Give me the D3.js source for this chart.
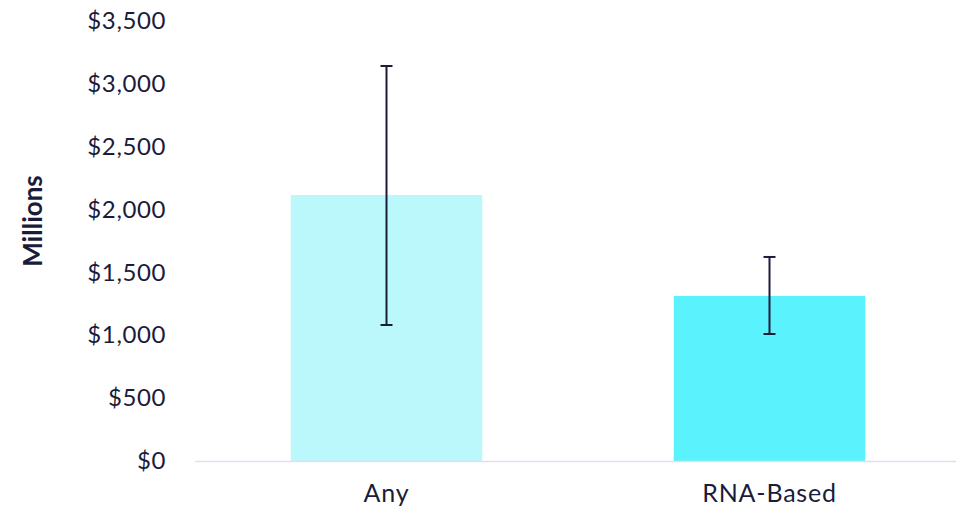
<!DOCTYPE html>
<html>
<head>
<meta charset="utf-8">
<script src="https://cdn.jsdelivr.net/npm/d3@7"></script>
<style>
  html, body { margin: 0; padding: 0; background: #fff; }
  svg { display: block; }
  text { font-family: Lato, "Open Sans", sans-serif; fill: #1b1b3a; }
</style>
</head>
<body>
<svg id="chart" width="956" height="515"></svg>
<script>
const categories = ["Any", "RNA-Based"];
const values = [2116, 1313];
const errLow = [1082, 1010];
const errHigh = [3142, 1623];
const barColors = ["#bbf8fc", "#59f2fd"];
const yTicks = [0, 500, 1000, 1500, 2000, 2500, 3000, 3500];
const yTitle = "Millions";

const svg = d3.select("#chart");
const x = d3.scaleBand().domain(categories).range([195, 961]).paddingInner(0.5).paddingOuter(0.25);
const y = d3.scaleLinear().domain([0, 3500]).range([461, 21]);

const fmt = d => "$" + d3.format(",")(d);

// y tick labels
const yAxis = d3.axisLeft(y).tickValues(yTicks).tickFormat(fmt).tickSize(0).tickPadding(0);
const gy = svg.append("g").attr("transform", "translate(166,0)").call(yAxis);
gy.select(".domain").remove();
gy.selectAll("text").style("font-size", "24px").style("letter-spacing", "0.6px")
  .style("font-family", "Lato, 'Open Sans', sans-serif").attr("fill", "#1b1b3a");

// bars
svg.selectAll("rect.bar").data(categories).join("rect")
  .attr("class", "bar")
  .attr("x", d => x(d))
  .attr("width", x.bandwidth())
  .attr("y", (d, i) => y(values[i]))
  .attr("height", (d, i) => y(0) - y(values[i]))
  .attr("fill", (d, i) => barColors[i]);

// baseline
svg.append("line").attr("x1", 195).attr("x2", 956).attr("y1", y(0) + 0.5).attr("y2", y(0) + 0.5)
  .attr("stroke", "#e2def2").attr("stroke-width", 1.5);

// error bars
const eg = svg.selectAll("g.err").data(categories).join("g").attr("class", "err")
  .attr("transform", d => `translate(${x(d) + x.bandwidth() / 2},0)`);
eg.append("line").attr("x1", 0).attr("x2", 0)
  .attr("y1", (d, i) => y(errHigh[i])).attr("y2", (d, i) => y(errLow[i]))
  .attr("stroke", "#1b1b3a").attr("stroke-width", 2);
eg.append("line").attr("x1", -6).attr("x2", 6)
  .attr("y1", (d, i) => y(errHigh[i])).attr("y2", (d, i) => y(errHigh[i]))
  .attr("stroke", "#1b1b3a").attr("stroke-width", 2);
eg.append("line").attr("x1", -6).attr("x2", 6)
  .attr("y1", (d, i) => y(errLow[i])).attr("y2", (d, i) => y(errLow[i]))
  .attr("stroke", "#1b1b3a").attr("stroke-width", 2);

// x labels
const xAxis = d3.axisBottom(x).tickSize(0).tickPadding(0);
const gx = svg.append("g").attr("transform", "translate(0,484)").call(xAxis);
gx.select(".domain").remove();
gx.selectAll("text").style("font-size", "25px").style("letter-spacing", "0.8px")
  .style("font-family", "Lato, 'Open Sans', sans-serif").attr("fill", "#1b1b3a");

// y title
svg.append("text")
  .attr("transform", "translate(42,221) rotate(-90)")
  .attr("text-anchor", "middle")
  .style("font-size", "26px").style("font-weight", "bold")
  .text(yTitle);
</script>
</body>
</html>
